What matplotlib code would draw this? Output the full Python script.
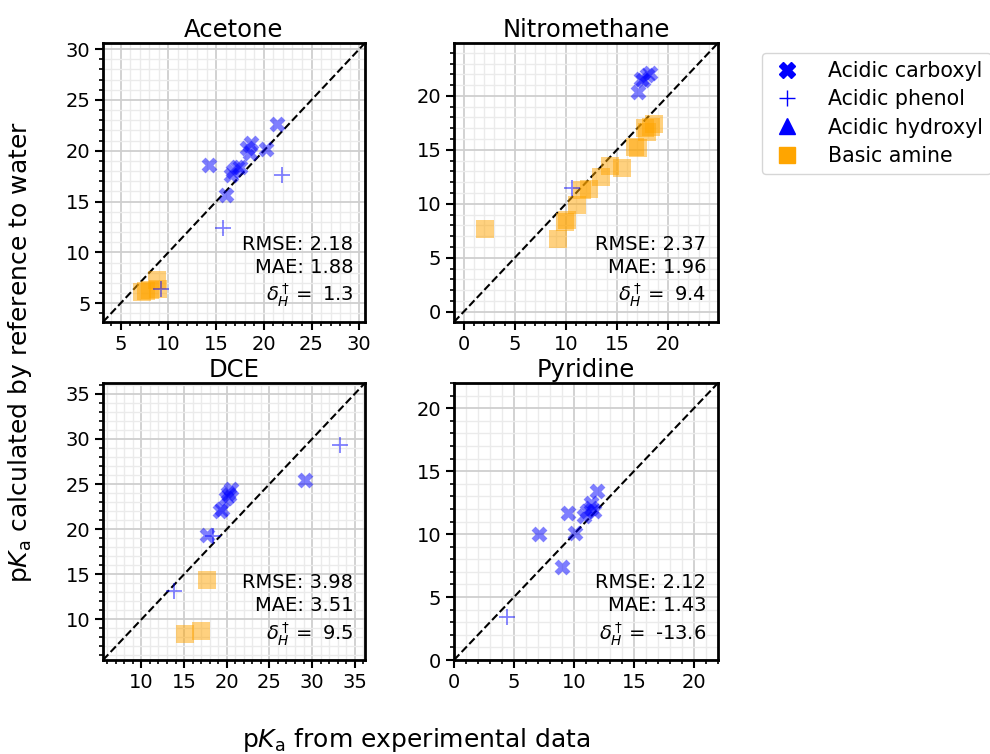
import matplotlib as mpl
mpl.use('Agg')
import matplotlib.pyplot as plt
from matplotlib.ticker import MultipleLocator

# experimental pKa (x) vs calculated pKa (y), per solvent and group
solvents = ["Acetone", "Nitromethane", "DCE", "Pyridine"]

acetone_carboxyl_x = [21.4, 14.3, 18.7, 18.2, 18.6, 20.2, 17.2, 16.8, 16.6, 17.5, 16.0]
acetone_carboxyl_y = [22.6, 18.6, 20.8, 20.3, 19.8, 20.2, 18.4, 18.0, 17.6, 18.4, 15.6]
acetone_phenol_x = [21.9, 15.7, 9.2]
acetone_phenol_y = [17.6, 12.4, 6.4]
acetone_amine_x = [7.2, 7.7, 8.1, 8.9, 8.8]
acetone_amine_y = [6.1, 6.2, 6.3, 6.4, 7.3]

nitro_carboxyl_x = [17.1, 17.4, 17.9, 18.2, 17.6]
nitro_carboxyl_y = [20.4, 21.6, 21.9, 22.1, 21.5]
nitro_phenol_x = [10.6]
nitro_phenol_y = [11.5]
nitro_amine_x = [2.1, 9.2, 9.9, 10.1, 11.1, 11.6, 12.3, 13.4, 14.3, 15.5, 16.8, 17.1, 17.9, 18.3, 18.6, 17.8]
nitro_amine_y = [7.7, 6.7, 8.3, 8.5, 9.9, 11.3, 11.4, 12.5, 13.5, 13.3, 15.3, 15.2, 16.7, 17.1, 17.4, 17.0]

dce_carboxyl_x = [29.2, 17.7, 19.2, 19.5, 19.9, 20.1, 20.5, 20.3]
dce_carboxyl_y = [25.4, 19.3, 22.0, 22.2, 23.4, 24.0, 24.4, 23.8]
dce_phenol_x = [33.3, 13.8, 18.4]
dce_phenol_y = [29.3, 13.1, 19.2]
dce_amine_x = [17.7, 15.1, 17.0]
dce_amine_y = [14.4, 8.4, 8.7]

pyr_carboxyl_x = [7.1, 9.5, 9.0, 10.1, 11.9, 11.4, 10.8, 11.1, 11.7, 11.4]
pyr_carboxyl_y = [10.0, 11.7, 7.4, 10.1, 13.4, 12.5, 11.4, 11.8, 11.8, 12.1]
pyr_phenol_x = [4.4]
pyr_phenol_y = [3.4]
pyr_amine_x = []
pyr_amine_y = []

rmse = [2.18, 2.37, 3.98, 2.12]
mae = [1.88, 1.96, 3.51, 1.43]
delta_h = [1.3, 9.4, 9.5, -13.6]
limits = [(3.15, 30.6), (-0.95, 24.9), (5.5, 36.2), (0.0, 22.0)]

data = [
    (acetone_carboxyl_x, acetone_carboxyl_y, acetone_phenol_x, acetone_phenol_y, acetone_amine_x, acetone_amine_y),
    (nitro_carboxyl_x, nitro_carboxyl_y, nitro_phenol_x, nitro_phenol_y, nitro_amine_x, nitro_amine_y),
    (dce_carboxyl_x, dce_carboxyl_y, dce_phenol_x, dce_phenol_y, dce_amine_x, dce_amine_y),
    (pyr_carboxyl_x, pyr_carboxyl_y, pyr_phenol_x, pyr_phenol_y, pyr_amine_x, pyr_amine_y),
]

W, H = 990, 754
fig = plt.figure(figsize=(9.9, 7.54), dpi=100)

boxes = [(103, 43, 365, 322), (454, 43, 718, 322),
         (103, 383, 365, 660), (454, 383, 718, 660)]

for i, name in enumerate(solvents):
    l, t, r, b = boxes[i]
    ax = fig.add_axes([l / W, 1 - b / H, (r - l) / W, (b - t) / H])
    cx, cy, px, py, ax_, ay = data[i]
    lo, hi = limits[i]

    ax.plot([lo, hi], [lo, hi], 'k--', lw=1.5, zorder=1)
    ax.scatter(cx, cy, marker='X', s=130, color='blue', alpha=0.5, lw=0, zorder=3)
    ax.scatter(px, py, marker='+', s=130, color='blue', alpha=0.5, lw=1.3, zorder=3)
    ax.scatter(ax_, ay, marker='s', s=160, color='orange', alpha=0.5, lw=0, zorder=2)

    ax.set_xlim(lo, hi)
    ax.set_ylim(lo, hi)
    ax.xaxis.set_major_locator(MultipleLocator(5))
    ax.yaxis.set_major_locator(MultipleLocator(5))
    ax.xaxis.set_minor_locator(MultipleLocator(1))
    ax.yaxis.set_minor_locator(MultipleLocator(1))
    ax.grid(which='major', color='#cfcfcf', lw=1.3)
    ax.grid(which='minor', color='#ebebeb', lw=1.0)
    ax.set_axisbelow(True)
    ax.tick_params(which='major', labelsize=14, length=6, width=1.5, pad=3)
    ax.tick_params(which='minor', length=3, width=1.2)
    for sp in ax.spines.values():
        sp.set_linewidth(2)
    ax.set_title(name, fontsize=17.5, pad=4)

    txt = (f"RMSE: {rmse[i]:.2f}\nMAE: {mae[i]:.2f}\n"
           + r"$\delta_H^\dagger = $ " + f"{delta_h[i]}")
    ax.text(0.955, 0.045, txt, transform=ax.transAxes, ha='right', va='bottom',
            fontsize=14, linespacing=1.25)

# legend handles
h1 = plt.Line2D([], [], marker='X', color='blue', ls='', markersize=12, label='Acidic carboxyl')
h2 = plt.Line2D([], [], marker='+', color='blue', ls='', markersize=12, label='Acidic phenol')
h3 = plt.Line2D([], [], marker='^', color='blue', ls='', markersize=12, label='Acidic hydroxyl')
h4 = plt.Line2D([], [], marker='s', color='orange', ls='', markersize=12, label='Basic amine')
fig.legend(handles=[h1, h2, h3, h4], loc='upper left',
           bbox_to_anchor=(762 / W, 1 - 53 / H), borderaxespad=0,
           fontsize=14.8, labelspacing=0.4, borderpad=0.4,
           handlelength=1.6, handletextpad=1.2)

fig.text(416 / W, 1 - 740 / H, r"p$K_\mathrm{a}$ from experimental data",
         ha='center', va='center', fontsize=18)
fig.text(20 / W, 1 - 352 / H, r"p$K_\mathrm{a}$ calculated by reference to water",
         ha='center', va='center', rotation=90, fontsize=18)

fig.savefig("out.png", dpi=100)
